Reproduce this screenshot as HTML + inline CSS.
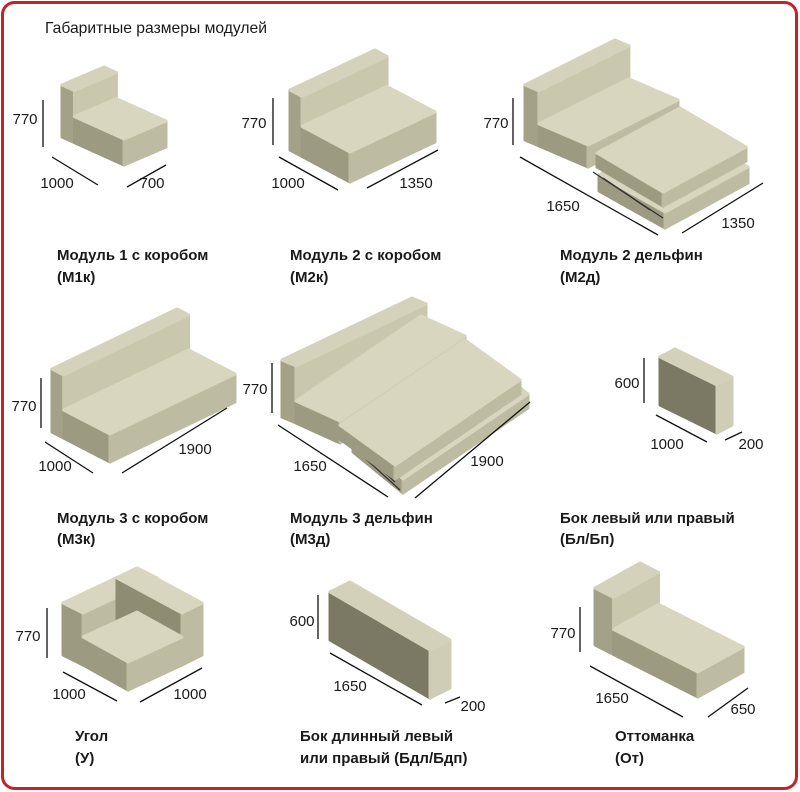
<!DOCTYPE html>
<html><head><meta charset="utf-8"><style>
html,body{margin:0;padding:0;background:#fff;width:800px;height:792px;overflow:hidden}
svg{display:block}
text{font-family:"Liberation Sans",Arial,sans-serif;fill:#1a1a1a}
.d{font-size:15px}
.l{font-size:15px;font-weight:bold}
</style></head><body>
<svg id="s" width="800" height="792" xmlns="http://www.w3.org/2000/svg">
<rect x="2.5" y="2.5" width="794" height="786" rx="12" fill="#fff" stroke="#c8202a" stroke-width="3"/>
<text x="45" y="33" font-size="16" textLength="222" lengthAdjust="spacingAndGlyphs">Габаритные размеры модулей</text>
<g id="g"></g>
<g stroke="#111" stroke-width="1.3">
<line x1="43" y1="100" x2="43" y2="147"/><line x1="52" y1="157" x2="98" y2="185"/><line x1="127" y1="187" x2="166" y2="165"/>
<line x1="273" y1="98" x2="273" y2="145"/><line x1="279" y1="157" x2="338" y2="190"/><line x1="367" y1="188" x2="438" y2="150"/>
<line x1="513" y1="98" x2="513" y2="145"/><line x1="520" y1="157" x2="658" y2="235"/><line x1="682" y1="233" x2="763" y2="183"/>
<line x1="41" y1="378" x2="41" y2="428"/><line x1="45" y1="442" x2="93" y2="473"/><line x1="122" y1="473" x2="227" y2="408"/>
<line x1="272" y1="363" x2="272" y2="413"/><line x1="278" y1="425" x2="388" y2="497"/><line x1="415" y1="498" x2="530" y2="402"/>
<line x1="644" y1="358" x2="644" y2="403"/><line x1="656" y1="415" x2="707" y2="442"/><line x1="725" y1="440" x2="742" y2="432"/>
<line x1="47" y1="608" x2="47" y2="658"/><line x1="63" y1="672" x2="117" y2="701"/><line x1="140" y1="702" x2="202" y2="668"/>
<line x1="318" y1="595" x2="318" y2="639"/><line x1="330" y1="653" x2="422" y2="705"/><line x1="445" y1="703" x2="460" y2="697"/>
<line x1="580" y1="607" x2="580" y2="652"/><line x1="590" y1="666" x2="683" y2="717"/><line x1="708" y1="717" x2="748" y2="688"/>
</g>
<g class="d" text-anchor="middle">
<text x="25" y="124">770</text><text x="57" y="188">1000</text><text x="152" y="188">700</text>
<text x="254" y="128">770</text><text x="288" y="188">1000</text><text x="416" y="188">1350</text>
<text x="496" y="128">770</text><text x="563" y="211">1650</text><text x="738" y="228">1350</text>
<text x="24" y="411">770</text><text x="55" y="471">1000</text><text x="195" y="454">1900</text>
<text x="255" y="394">770</text><text x="310" y="471">1650</text><text x="487" y="466">1900</text>
<text x="627" y="388">600</text><text x="667" y="449">1000</text><text x="751" y="449">200</text>
<text x="28" y="641">770</text><text x="69" y="699">1000</text><text x="190" y="699">1000</text>
<text x="302" y="626">600</text><text x="350" y="691">1650</text><text x="473" y="711">200</text>
<text x="563" y="638">770</text><text x="612" y="703">1650</text><text x="743" y="714">650</text>
</g>
<g class="l">
<text x="57" y="260">Модуль 1 с коробом</text><text x="57" y="282">(М1к)</text>
<text x="290" y="260">Модуль 2 с коробом</text><text x="290" y="282">(М2к)</text>
<text x="560" y="260">Модуль 2 дельфин</text><text x="560" y="282">(М2д)</text>
<text x="57" y="523">Модуль 3 с коробом</text><text x="57" y="544">(М3к)</text>
<text x="290" y="523">Модуль 3 дельфин</text><text x="290" y="544">(М3д)</text>
<text x="560" y="523">Бок левый или правый</text><text x="560" y="544">(Бл/Бп)</text>
<text x="75" y="741">Угол</text><text x="75" y="763">(У)</text>
<text x="300" y="741">Бок длинный левый</text><text x="300" y="763">или правый  (Бдл/Бдп)</text>
<text x="615" y="741">Оттоманка</text><text x="615" y="763">(От)</text>
</g>
</svg>
<script>
var g=document.getElementById('g'),NS='http://www.w3.org/2000/svg';
function P(a){return a.map(function(p){return p[0].toFixed(1)+','+p[1].toFixed(1)}).join(' ')}
function poly(pts,c){var e=document.createElementNS(NS,'polygon');e.setAttribute('points',P(pts));e.setAttribute('fill',c);e.setAttribute('stroke',c);e.setAttribute('stroke-width','3');e.setAttribute('stroke-linejoin','round');g.appendChild(e)}
function line(a,b,c,d){var e=document.createElementNS(NS,'line');e.setAttribute('x1',a);e.setAttribute('y1',b);e.setAttribute('x2',c);e.setAttribute('y2',d);e.setAttribute('stroke','#333');e.setAttribute('stroke-width','1.3');g.appendChild(e)}
var T='#d8d6bf',L='#9c9a80',F='#bdbba1';
var BC=['#d4d2ba','#a3a187','#c9c7ae'];
function box(o,d,w,h,c){c=c||[T,L,F];var A=o,B=[o[0]+d[0],o[1]+d[1]],C=[B[0]+w[0],B[1]+w[1]],D=[o[0]+w[0],o[1]+w[1]];
function u(p){return[p[0],p[1]-h]}
poly([A,B,u(B),u(A)],c[1]);poly([B,C,u(C),u(B)],c[2]);poly([u(A),u(B),u(C),u(D)],c[0]);}
function sofa(o,d,w,hs,hb,bf){
 var db=[d[0]*bf,d[1]*bf];
 box(o,db,w,hb,BC);
 box([o[0]+db[0],o[1]+db[1]],[d[0]-db[0],d[1]-db[1]],w,hs);
}
sofa([62,137],[62,28],[42,-18],26,52,.2);
sofa([290,150],[60,32],[85,-40],30,60,.2);
sofa([525,140],[63,27],[90,-45],22,55,.22);
box([599,191],[66,37],[83,-45],16);
line(593,172,663,218);line(603,178,650,210);
box([597,167],[66,39],[83,-45],14);
sofa([52,432],[58,30],[125,-60],28,63,.2);
box([282,417],[14,6],[130,-62],57,BC);
box([296,423],[44,20],[125,-85],22);
box([353,452],[50,41],[125,-85],14);
line(345,440,400,490);line(355,445,395,482);
box([340,439],[55,40],[125,-85],14);
var DK=['#d3d1b9','#7b7963','#cfcdb5'];
box([660,405],[57,28],[15,-8],48,DK);
box([330,640],[100,58],[20,-10],48,DK);
box([63,655],[20,10],[74,-35],52);
box([117,630],[65,35],[20,-10],52,[T,'#8e8c73',F]);
box([83,665],[45,25],[54,-25],28);
sofa([595,645],[103,52],[45,-25],25,57,.18);
</script>
</body></html>
